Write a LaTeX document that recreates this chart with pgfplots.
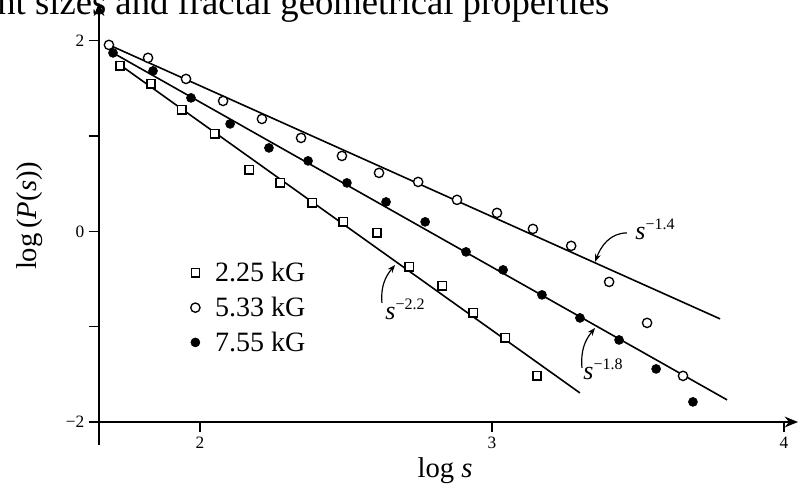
\documentclass[border=0pt]{standalone}
\usepackage{pgfplots}
\pgfplotsset{compat=1.18}
\usepackage{fontspec}
\setmainfont{Liberation Serif}
\usetikzlibrary{arrows.meta}

\begin{document}
\begin{tikzpicture}
\useasboundingbox (0,0) rectangle (600pt,367.5pt);
\clip (0,0) rectangle (600pt,367.5pt);
\begin{axis}[
  at={(74.25pt,51pt)}, anchor=south west,
  x=219pt, y=71.475pt,
  xmin=1.654, xmax=4.048, ymin=-2, ymax=2.40,
  axis lines=left,
  axis line style={line width=2pt, -{Stealth[length=10pt,width=8pt]}},
  clip=false,
  xtick={2,3,4}, xticklabels={2,3,4},
  ytick={-2,0,2}, yticklabels={−2,0,2},
  minor ytick={-1,1},
  tick align=outside,
  major tick length=7.5pt, minor tick length=7.5pt,
  every tick/.style={line width=1pt, black},
  tick label style={font=\fontsize{13}{15}\selectfont},
  xlabel={log \textit{s}},
  ylabel={log\,(\textit{P}(\textit{s}))},
  label style={font=\fontsize{21.5}{26}\selectfont},
  xlabel style={at={(axis description cs:0.495,-0.1168)}, anchor=center},
  ylabel style={at={(axis description cs:-0.0986,0.4916)}, anchor=center},
  legend style={at={(axis cs:1.95,-0.80)}, anchor=west, draw=none, fill=none,
    font=\fontsize{21}{25}\selectfont, row sep=6pt},
  legend cell align=left,
  legend image code/.code={
    \path[draw=none] (-0.15cm,0cm) -- (0.45cm,0cm);
    \draw[#1] plot coordinates {(0cm,0cm)};
  },
]
% fitted power laws
\addplot[line width=1.2pt, forget plot] coordinates {(1.688,1.957) (3.781,-0.918)};
\addplot[line width=1.2pt, forget plot] coordinates {(1.702,1.873) (3.805,-1.768)};
\addplot[line width=1.2pt, forget plot] coordinates {(1.720,1.760) (3.301,-1.695)};

% 2.25 kG
\addplot[only marks, mark=square*, mark size=3.1pt,
  mark options={line width=1pt, fill=white, draw=black}] coordinates {
  (1.726,1.737) (1.832,1.548) (1.938,1.275) (2.051,1.023) (2.168,0.645)
  (2.274,0.509) (2.384,0.299) (2.490,0.100) (2.606,-0.016) (2.716,-0.373)
  (2.829,-0.572) (2.935,-0.855) (3.045,-1.117) (3.154,-1.516)};
% 5.33 kG
\addplot[only marks, mark=*, mark size=3.5pt,
  mark options={line width=1pt, fill=white, draw=black}] coordinates {
  (1.688,1.957) (1.822,1.821) (1.952,1.600) (2.079,1.369) (2.212,1.180)
  (2.346,0.981) (2.486,0.792) (2.613,0.614) (2.747,0.519) (2.880,0.331)
  (3.017,0.194) (3.140,0.026) (3.271,-0.152) (3.401,-0.530) (3.531,-0.960)
  (3.654,-1.516)};
% 7.55 kG
\addplot[only marks, mark=*, mark size=3.4pt,
  mark options={fill=black, draw=black}] coordinates {
  (1.702,1.873) (1.839,1.684) (1.969,1.401) (2.103,1.128) (2.236,0.876)
  (2.370,0.740) (2.503,0.509) (2.637,0.309) (2.771,0.100) (2.911,-0.215)
  (3.038,-0.404) (3.171,-0.666) (3.301,-0.908) (3.435,-1.139) (3.562,-1.443)
  (3.688,-1.789)};
\legend{2.25 kG, 5.33 kG, 7.55 kG}

% axis stubs beyond the origin corner
\draw[line width=2pt] (axis cs:1.623,-2) -- (axis cs:1.654,-2);
\draw[line width=2pt] (axis cs:1.654,-2) -- (axis cs:1.654,-2.24);

% slope annotations
\draw[-{Stealth[length=6pt,width=4.5pt]}, line width=0.9pt]
  (axis cs:3.462,-0.016) to[out=180,in=70] (axis cs:3.353,-0.320);
\node[anchor=base west, inner sep=0, font=\fontsize{19.5}{22}\selectfont]
  at (axis cs:3.490,-0.089) {\textit{s}\raisebox{7.5pt}{\fontsize{12}{14}\selectfont −1.4}};

\draw[-{Stealth[length=6pt,width=4.5pt]}, line width=0.9pt]
  (axis cs:2.623,-0.750) to[out=95,in=230] (axis cs:2.668,-0.352);
\node[anchor=base west, inner sep=0, font=\fontsize{19.5}{22}\selectfont]
  at (axis cs:2.634,-0.929) {\textit{s}\raisebox{7.5pt}{\fontsize{12}{14}\selectfont −2.2}};

\draw[-{Stealth[length=6pt,width=4.5pt]}, line width=0.9pt]
  (axis cs:3.308,-1.432) to[out=95,in=230] (axis cs:3.353,-1.013);
\node[anchor=base west, inner sep=0, font=\fontsize{19.5}{22}\selectfont]
  at (axis cs:3.312,-1.558) {\textit{s}\raisebox{7.5pt}{\fontsize{12}{14}\selectfont −1.8}};

% running page heading above the figure
\node[anchor=base west, inner sep=0, font=\fontsize{27.5}{32}\selectfont]
  at (axis cs:1.305,2.272) {nt sizes and fractal geometrical properties};
\end{axis}
\end{tikzpicture}
\end{document}
